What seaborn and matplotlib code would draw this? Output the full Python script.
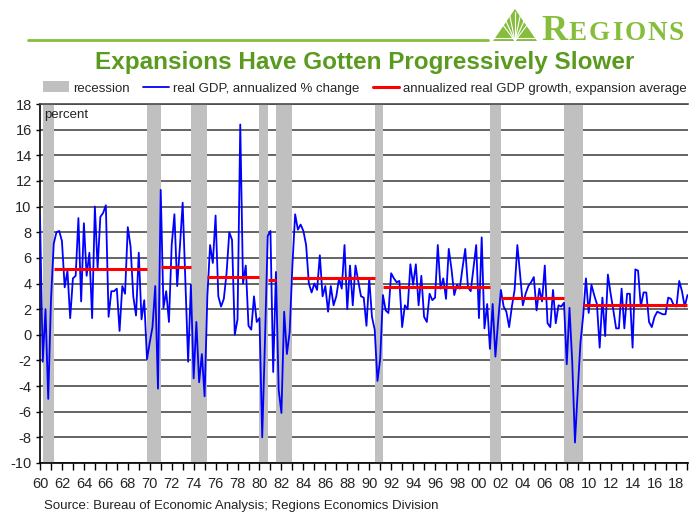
import numpy as np
import pandas as pd
import matplotlib.pyplot as plt
import seaborn as sns
from matplotlib.patches import Patch, Polygon
from matplotlib.lines import Line2D

# -----------------------------
# Data
# -----------------------------

# real GDP, annualized % change, quarterly 1960Q1 - 2019Q1
gdp_growth = [
    9.3, -2.1, 2.0, -5.0,    # 1960
    2.7, 7.1, 8.0, 8.1,      # 1961
    7.3, 3.7, 5.0, 1.3,      # 1962
    4.4, 4.6, 9.1, 2.6,      # 1963
    8.7, 4.6, 6.4, 1.3,      # 1964
    10.0, 5.2, 9.2, 9.5,     # 1965
    10.1, 1.4, 3.4, 3.4,     # 1966
    3.6, 0.3, 3.8, 3.2,      # 1967
    8.4, 6.9, 3.0, 1.5,      # 1968
    6.4, 1.2, 2.7, -1.9,     # 1969
    -0.6, 0.6, 3.8, -4.2,    # 1970
    11.3, 2.1, 3.4, 1.0,     # 1971
    7.0, 9.4, 3.8, 6.9,      # 1972
    10.3, 4.2, -2.1, 3.9,    # 1973
    -3.4, 1.0, -3.7, -1.5,   # 1974
    -4.8, 3.0, 7.0, 5.6,     # 1975
    9.3, 3.0, 2.2, 2.8,      # 1976
    4.8, 8.0, 7.4, 0.0,      # 1977
    1.2, 16.4, 4.0, 5.4,     # 1978
    0.7, 0.4, 3.0, 1.0,      # 1979
    1.3, -8.0, -0.5, 7.7,    # 1980
    8.1, -2.9, 4.9, -4.3,    # 1981
    -6.1, 1.8, -1.5, 0.2,    # 1982
    5.4, 9.4, 8.2, 8.6,      # 1983
    8.1, 7.0, 4.0, 3.3,      # 1984
    4.0, 3.5, 6.2, 3.0,      # 1985
    3.8, 1.8, 3.8, 2.3,      # 1986
    3.0, 4.4, 3.6, 7.0,      # 1987
    2.0, 5.4, 2.3, 5.4,      # 1988
    4.2, 3.0, 2.9, 0.7,      # 1989
    4.4, 1.4, 0.4, -3.6,     # 1990
    -1.9, 3.1, 1.9, 1.7,     # 1991
    4.8, 4.4, 4.1, 4.2,      # 1992
    0.6, 2.3, 2.0, 5.5,      # 1993
    3.9, 5.5, 2.3, 4.6,      # 1994
    1.4, 1.0, 3.2, 2.7,      # 1995
    2.9, 7.0, 3.6, 4.4,      # 1996
    2.8, 6.7, 5.1, 3.1,      # 1997
    3.9, 3.6, 5.2, 6.7,      # 1998
    3.7, 3.4, 5.2, 7.0,      # 1999
    1.3, 7.6, 0.5, 2.4,      # 2000
    -1.1, 2.4, -1.7, 1.1,    # 2001
    3.5, 2.2, 1.8, 0.6,      # 2002
    2.2, 3.5, 7.0, 4.7,      # 2003
    2.3, 3.2, 3.8, 4.1,      # 2004
    4.5, 1.9, 3.6, 2.6,      # 2005
    5.4, 0.9, 0.6, 3.5,      # 2006
    0.9, 2.3, 2.2, 2.5,      # 2007
    -2.3, 2.1, -2.1, -8.4,   # 2008
    -4.4, -0.6, 1.5, 4.4,    # 2009
    1.7, 3.9, 3.1, 2.4,      # 2010
    -1.0, 2.9, -0.1, 4.7,    # 2011
    3.2, 1.9, 0.5, 0.5,      # 2012
    3.6, 0.5, 3.2, 3.2,      # 2013
    -1.0, 5.1, 5.0, 2.2,     # 2014
    3.3, 3.3, 1.0, 0.6,      # 2015
    1.4, 1.8, 1.7, 1.6,      # 2016
    1.6, 2.9, 2.8, 2.3,      # 2017
    2.2, 4.2, 3.4, 2.2,      # 2018
    3.1,                     # 2019
]
first_year = 1960

# NBER recessions (start, end as fractional years)
rec_start = [1960.25, 1969.75, 1973.75, 1980.0, 1981.5, 1990.5, 2001.0, 2007.75]
rec_end = [1961.25, 1971.0, 1975.25, 1980.75, 1983.0, 1991.25, 2002.0, 2009.5]

# expansion average growth
exp_start = [1961.25, 1971.0, 1975.25, 1980.75, 1983.0, 1991.25, 2002.0, 2009.5]
exp_end = [1969.75, 1973.75, 1980.0, 1981.5, 1990.5, 2001.0, 2007.75, 2019.0]
exp_avg = [5.1, 5.25, 4.5, 4.3, 4.4, 3.75, 2.9, 2.3]

year_ticks = list(range(1960, 2019, 2))
y_ticks = list(range(-10, 19, 2))

df = pd.DataFrame({'growth': gdp_growth})
df['date'] = first_year + np.arange(len(df)) / 4

# -----------------------------
# Style
# -----------------------------
sns.set_theme(style='white')
plt.rcParams['font.family'] = ['Liberation Sans', 'DejaVu Sans']

green_title = '#5a9a1e'
green_logo = '#86bd3c'
gray_rec = '#c0c0c0'

fig = plt.figure(figsize=(6.89, 5.12), dpi=100)
W, H = 689, 512
ax = fig.add_axes([40 / W, 1 - 463 / H, (688 - 40) / W, (463 - 104) / H])

# recession bars
for s, e in zip(rec_start, rec_end):
    ax.axvspan(s, e, color=gray_rec, lw=0, zorder=1)

# GDP line
sns.lineplot(data=df, x='date', y='growth', ax=ax, color='#0000ff',
             lw=1.3, zorder=3, legend=False)

# expansion averages
ax.hlines(exp_avg, exp_start, exp_end, colors='#ff0000', lw=2.2, zorder=4)

ax.set_xlim(1960, 2019.05)
ax.set_ylim(-10, 18)
ax.set_yticks(y_ticks)
ax.set_yticklabels([str(v) for v in y_ticks], fontsize=10.5)
ax.set_xticks(year_ticks)
ax.set_xticklabels(['%02d' % (y % 100) for y in year_ticks], fontsize=10.5)
ax.set_xticks(range(1960, 2020), minor=True)
ax.tick_params(axis='x', which='both', direction='out', length=5, width=1,
               color='black', bottom=True, pad=5)
ax.tick_params(axis='y', direction='out', length=3, width=1, color='black',
               left=True, pad=3)
ax.set_xlabel('')
ax.set_ylabel('')

ax.set_axisbelow(True)
ax.yaxis.grid(True, color='#4a4a4a', lw=1.2)
ax.xaxis.grid(False)
for side in ['left', 'bottom']:
    ax.spines[side].set_color('black')
    ax.spines[side].set_linewidth(1.2)
ax.spines['top'].set_color('#4a4a4a')
ax.spines['top'].set_linewidth(1.2)
ax.spines['right'].set_visible(False)

ax.text(0.007, 0.985, 'percent', transform=ax.transAxes, fontsize=9.5,
        va='top', ha='left', color='#222222', zorder=5)

# legend
handles = [Patch(facecolor=gray_rec, edgecolor='none'),
           Line2D([], [], color='#0000ff', lw=1.3),
           Line2D([], [], color='#ff0000', lw=2.2)]
labels = ['recession', 'real GDP, annualized % change',
          'annualized real GDP growth, expansion average']
fig.legend(handles, labels, loc='center', bbox_to_anchor=(365 / W, 1 - 88 / H),
           ncol=3, frameon=False, fontsize=9.5, handlelength=2.0,
           handleheight=0.9, handletextpad=0.3, columnspacing=1.0)

# title
fig.text(365 / W, 1 - 63 / H, 'Expansions Have Gotten Progressively Slower',
         ha='center', va='center', fontsize=17.5, fontweight='bold',
         color=green_title)

# green rule + logo
fig.add_artist(Line2D([28 / W, 488 / W], [1 - 40 / H, 1 - 40 / H],
                      color=green_logo, lw=2))
lax = fig.add_axes([493 / W, 1 - 41 / H, 44 / W, 32 / H])
lax.set_xlim(0, 1)
lax.set_ylim(0, 1)
lax.axis('off')
lax.add_patch(Polygon([(0, 0), (1, 0), (0.5, 1)], closed=True,
                      color=green_logo, lw=0))
for t in np.linspace(0.12, 0.88, 7):
    lax.plot([0.5, t], [0.0, 0.62 + 0.3 * (1 - abs(t - 0.5) * 2)],
             color='white', lw=0.8)
lax.plot([0, 1], [0.08, 0.08], color='white', lw=0.8)

# REGIONS word mark, letters packed to fill 541..684 px
letters = ['R', 'E', 'G', 'I', 'O', 'N', 'S']
letter_size = [26, 19.5, 19.5, 19.5, 19.5, 19.5, 19.5]
renderer = fig.canvas.get_renderer()
objs = []
for ch, fs in zip(letters, letter_size):
    t = fig.text(0, 1 - 40 / H, ch, ha='left', va='baseline', fontsize=fs,
                 color=green_logo, fontweight='bold',
                 family=['Liberation Serif', 'DejaVu Serif'])
    objs.append(t)
widths = [t.get_window_extent(renderer).width for t in objs]
gap = (684 - 541 - sum(widths)) / (len(objs) - 1)
xpos = 541
for t, w in zip(objs, widths):
    t.set_x(xpos / W)
    xpos += w + gap

# source
fig.text(44 / W, 1 - 506 / H,
         'Source: Bureau of Economic Analysis; Regions Economics Division',
         ha='left', va='center', fontsize=9.5, color='#222222')

fig.savefig('out.png', dpi=100)
